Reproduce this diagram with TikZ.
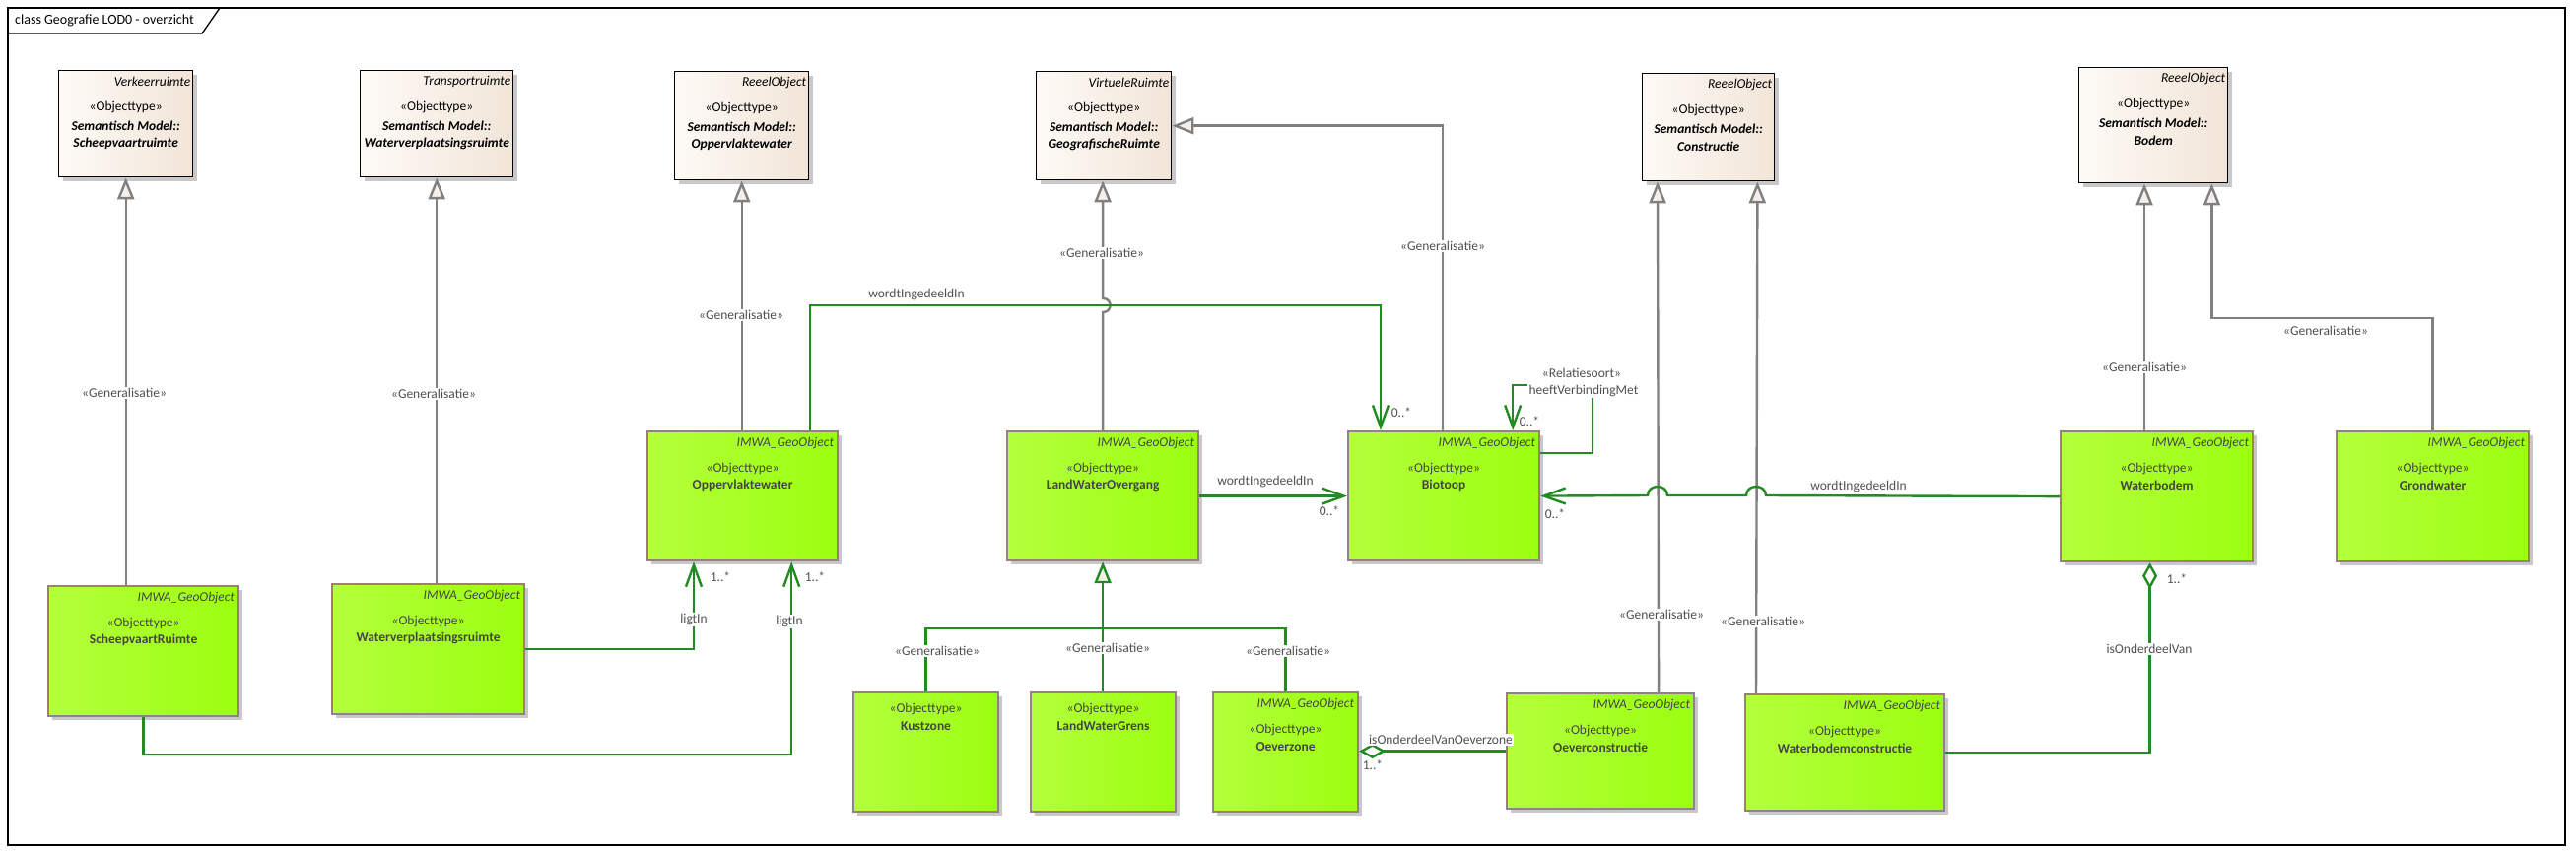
\documentclass[tikz,border=0pt]{standalone}
\usepackage{fontspec}
\setmainfont{Carlito}
\usepackage{tikz}
\usetikzlibrary{arrows.meta, positioning, calc, shadows}
\definecolor{geolight}{HTML}{B4FF3C}
\definecolor{geodark}{HTML}{9BFF0F}
\definecolor{geoborder}{HTML}{968080}
\definecolor{beigelight}{HTML}{FDFAF6}
\definecolor{beigedark}{HTML}{F2E5D8}
\definecolor{relgreen}{HTML}{228B22}
\definecolor{gengray}{HTML}{808080}
\definecolor{trifill}{HTML}{F5EEEA}
\definecolor{labelgray}{HTML}{505050}
\definecolor{boxtext}{HTML}{454545}
\definecolor{shadowgray}{HTML}{C8C8C8}

\tikzset{
  diafont/.style={font=\fontsize{13.5}{15}\selectfont},
  geobox/.style={draw=geoborder, line width=2.2pt, left color=geolight, right color=geodark, anchor=north west, inner sep=0pt,
    drop shadow={shadow xshift=4pt, shadow yshift=-4pt, fill=shadowgray, opacity=1}},
  smbox/.style={draw=black, line width=1.4pt, left color=beigelight, right color=beigedark, anchor=north west, inner sep=0pt,
    drop shadow={shadow xshift=4pt, shadow yshift=-4pt, fill=shadowgray, opacity=1}},
  geotag/.style={font=\fontsize{13.5}{15}\selectfont\itshape, text=boxtext, inner sep=0pt, anchor=east},
  geotext/.style={diafont, text=boxtext, inner sep=0pt},
  geoname/.style={font=\fontsize{13.5}{15}\selectfont\bfseries, text=boxtext, inner sep=0pt},
  smtag/.style={font=\fontsize{13.5}{15}\selectfont\itshape, inner sep=0pt, anchor=east},
  smtext/.style={diafont, inner sep=0pt},
  smname/.style={font=\fontsize{13.5}{15}\selectfont\bfseries\itshape, inner sep=0pt},
  genline/.style={draw=gengray, line width=2.4pt, -{Triangle[length=22pt, width=17pt, fill=trifill]}},
  treeline/.style={draw=relgreen, line width=2.4pt},
  assoc/.style={draw=relgreen, line width=2.4pt},
  assocarrow/.style={assoc, -{Straight Barb[length=22pt, width=16pt]}},
  assocdiamond/.style={assoc, -{Diamond[length=27pt, width=15pt, fill=white]}},
  lbl/.style={diafont, text=labelgray, inner sep=1.5pt},
  lblbg/.style={lbl, fill=white}
}

\begin{document}
\begin{tikzpicture}[x=1pt, y=-1pt]
  \useasboundingbox (0,0) rectangle (2614,866);
  \fill[white] (0,0) rectangle (2614,866);

  % diagram frame
  \draw[line width=1.3pt] (8,8) rectangle (2603,858);
  \draw[line width=1.3pt] (8,34) -- (205,34) -- (223,8);
  \node[font=\fontsize{14}{16}\selectfont, anchor=west, inner sep=0pt] (title) at (15,21) {class Geografie LOD0 - overzicht};

  % Semantisch Model classes
  \foreach \nm/\x/\y/\w/\h/\pkg/\ttl in {vkr/59/71/136/108/Verkeerruimte/Scheepvaartruimte,
      tpr/365/71/155/108/Transportruimte/Waterverplaatsingsruimte,
      smow/684/72/136/110/ReeelObject/Oppervlaktewater,
      geo/1051/72/137/110/VirtueleRuimte/GeografischeRuimte,
      con/1666/74/134/109/ReeelObject/Constructie,
      bod/2109/68/151/117/ReeelObject/Bodem} {
    \node[smbox, minimum width=\w, minimum height=\h] (\nm) at (\x,\y) {};
    \node[smtag] (\nm-tag) at ($(\nm.north east)+(-3,12)$) {\pkg};
    \node[smtext] (\nm-st) at ($(\nm.north)+(0,38)$) {«Objecttype»};
    \node[smname] (\nm-sm) at ($(\nm.north)+(0,57)$) {Semantisch Model::};
    \node[smname] (\nm-nm) at ($(\nm.north)+(0,75)$) {\ttl};
  }

  % IMWA objecttypes
  \foreach \nm/\x/\y/\w/\h/\ttl in {scv/48/594/193/132/ScheepvaartRuimte,
      wvr/336/592/195/132/Waterverplaatsingsruimte,
      oppw/656/437/193/131/Oppervlaktewater,
      lwo/1021/437/194/131/LandWaterOvergang,
      bio/1367/437/194/131/Biotoop,
      wb/2090/437/195/132/Waterbodem,
      gw/2370/437/195/132/Grondwater,
      oz/1230/702/147/121/Oeverzone,
      oc/1528/703/190/117/Oeverconstructie,
      wbc/1770/704/202/118/Waterbodemconstructie} {
    \node[geobox, minimum width=\w, minimum height=\h] (\nm) at (\x,\y) {};
    \node[geotag] (\nm-tag) at ($(\nm.north east)+(-5,13)$) {IMWA\_GeoObject};
    \node[geotext] (\nm-st) at ($(\nm.north)+(0,39)$) {«Objecttype»};
    \node[geoname] (\nm-nm) at ($(\nm.north)+(0,56)$) {\ttl};
  }
  \foreach \nm/\x/\ttl in {ks/865/Kustzone, lwg/1045/LandWaterGrens} {
    \node[geobox, minimum width=147, minimum height=121] (\nm) at (\x,702) {};
    \node[geotext] (\nm-st) at ($(\nm.north)+(0,18)$) {«Objecttype»};
    \node[geoname] (\nm-nm) at ($(\nm.north)+(0,35)$) {\ttl};
  }

  % Generalisaties
  \draw[genline] (vkr.south |- scv.north) -- (vkr.south);
  \draw[genline] (tpr.south |- wvr.north) -- (tpr.south);
  \draw[genline] (smow.south |- oppw.north) -- (smow.south);
  \draw[genline] (lwo.north) -- (lwo.north |- 0,317) .. controls +(10,0) and +(10,0) .. (lwo.north |- 0,303) -- (lwo.north |- geo.south);
  \draw[genline] ([xshift=97pt]bio.north west) |- (geo.east);
  \draw[genline] ([xshift=59pt]oc.north) -- ([xshift=16pt]con.south west);
  \draw[genline] ([xshift=12pt]wbc.north west) -- ([xshift=-18pt]con.south east);
  \draw[genline] ([xshift=86pt]wb.north west) -- ([xshift=67pt]bod.south west);
  \draw[genline] (gw.north) -- ++(0,-114) -| ([xshift=-17pt]bod.south east);

  % LandWaterOvergang subtypes
  \draw[treeline] (ks.north) -- ++(0,-64) -| (oz.north);
  \draw[treeline, -{Triangle[length=22pt, width=17pt, fill=trifill]}] (lwo.south |- lwg.north) -- (lwo.south);

  % Relaties
  \draw[assocarrow] ([xshift=-29pt]oppw.north east) -- ++(0,-127) -| ([xshift=34pt]bio.north west);
  \draw[assocarrow] (lwo.east) -- (bio.west);
  \draw[assocarrow] (wb.west) -- (1792,503) .. controls +(0,-12) and +(0,-12) .. (1772,503) -- (1692,503)
    .. controls +(0,-12) and +(0,-12) .. (1672,503) -- (bio.east);
  \draw[assocarrow] ([yshift=-23pt]bio.north east) -- ++(53,0) -- ++(0,-69) -| ([xshift=-28pt]bio.north east);
  \draw[assocarrow] (scv.south) -- ++(0,38) -| ([xshift=-48pt]oppw.south east);
  \draw[assocarrow] (wvr.east) -| ([xshift=48pt]oppw.south west);
  \draw[assocdiamond] (oc.west) -- (oz.east |- oc.west);
  \draw[assocdiamond] (wbc.east) -| ([xshift=-7pt]wb.south);

  % labels
  \foreach \nm/\x/\y in {g1/126/399, g2/440/400, g3/752/320, g4/1118/257, g5/1464/250, g6/1686/624,
      g7/1789/631, g8/2176/373, g9/2360/336, t1/951/661, t2/1124/658, t3/1307/661} {
    \node[lblbg] (\nm-lbl) at (\x,\y) {«Generalisatie»};
  }
  \node[lbl] (a1-lbl) at (930,299) {wordtIngedeeldIn};
  \node[lbl] (a1-mul) at (1422,419) {0..*};
  \node[lbl] (a2-lbl) at (1284,489) {wordtIngedeeldIn};
  \node[lbl] (a2-mul) at (1349,519) {0..*};
  \node[lbl] (a3-lbl) at (1886,494) {wordtIngedeeldIn};
  \node[lbl] (a3-mul) at (1578,522) {0..*};
  \node[lbl] (a4-st) at (1605,379) {«Relatiesoort»};
  \node[lblbg] (a4-lbl) at (1607,397) {heeftVerbindingMet};
  \node[lbl] (a4-mul) at (1552,428) {0..*};
  \node[lblbg] (a5-lbl) at (801,631) {ligtIn};
  \node[lbl] (a5-mul) at (827,586) {1..*};
  \node[lblbg] (a6-lbl) at (704,629) {ligtIn};
  \node[lbl] (a6-mul) at (731,586) {1..*};
  \node[lblbg] (a7-lbl) at (1462,751) {isOnderdeelVanOeverzone};
  \node[lbl] (a7-mul) at (1393,777) {1..*};
  \node[lblbg] (a8-lbl) at (2181,659) {isOnderdeelVan};
  \node[lbl] (a8-mul) at (2209,588) {1..*};
\end{tikzpicture}
\end{document}
